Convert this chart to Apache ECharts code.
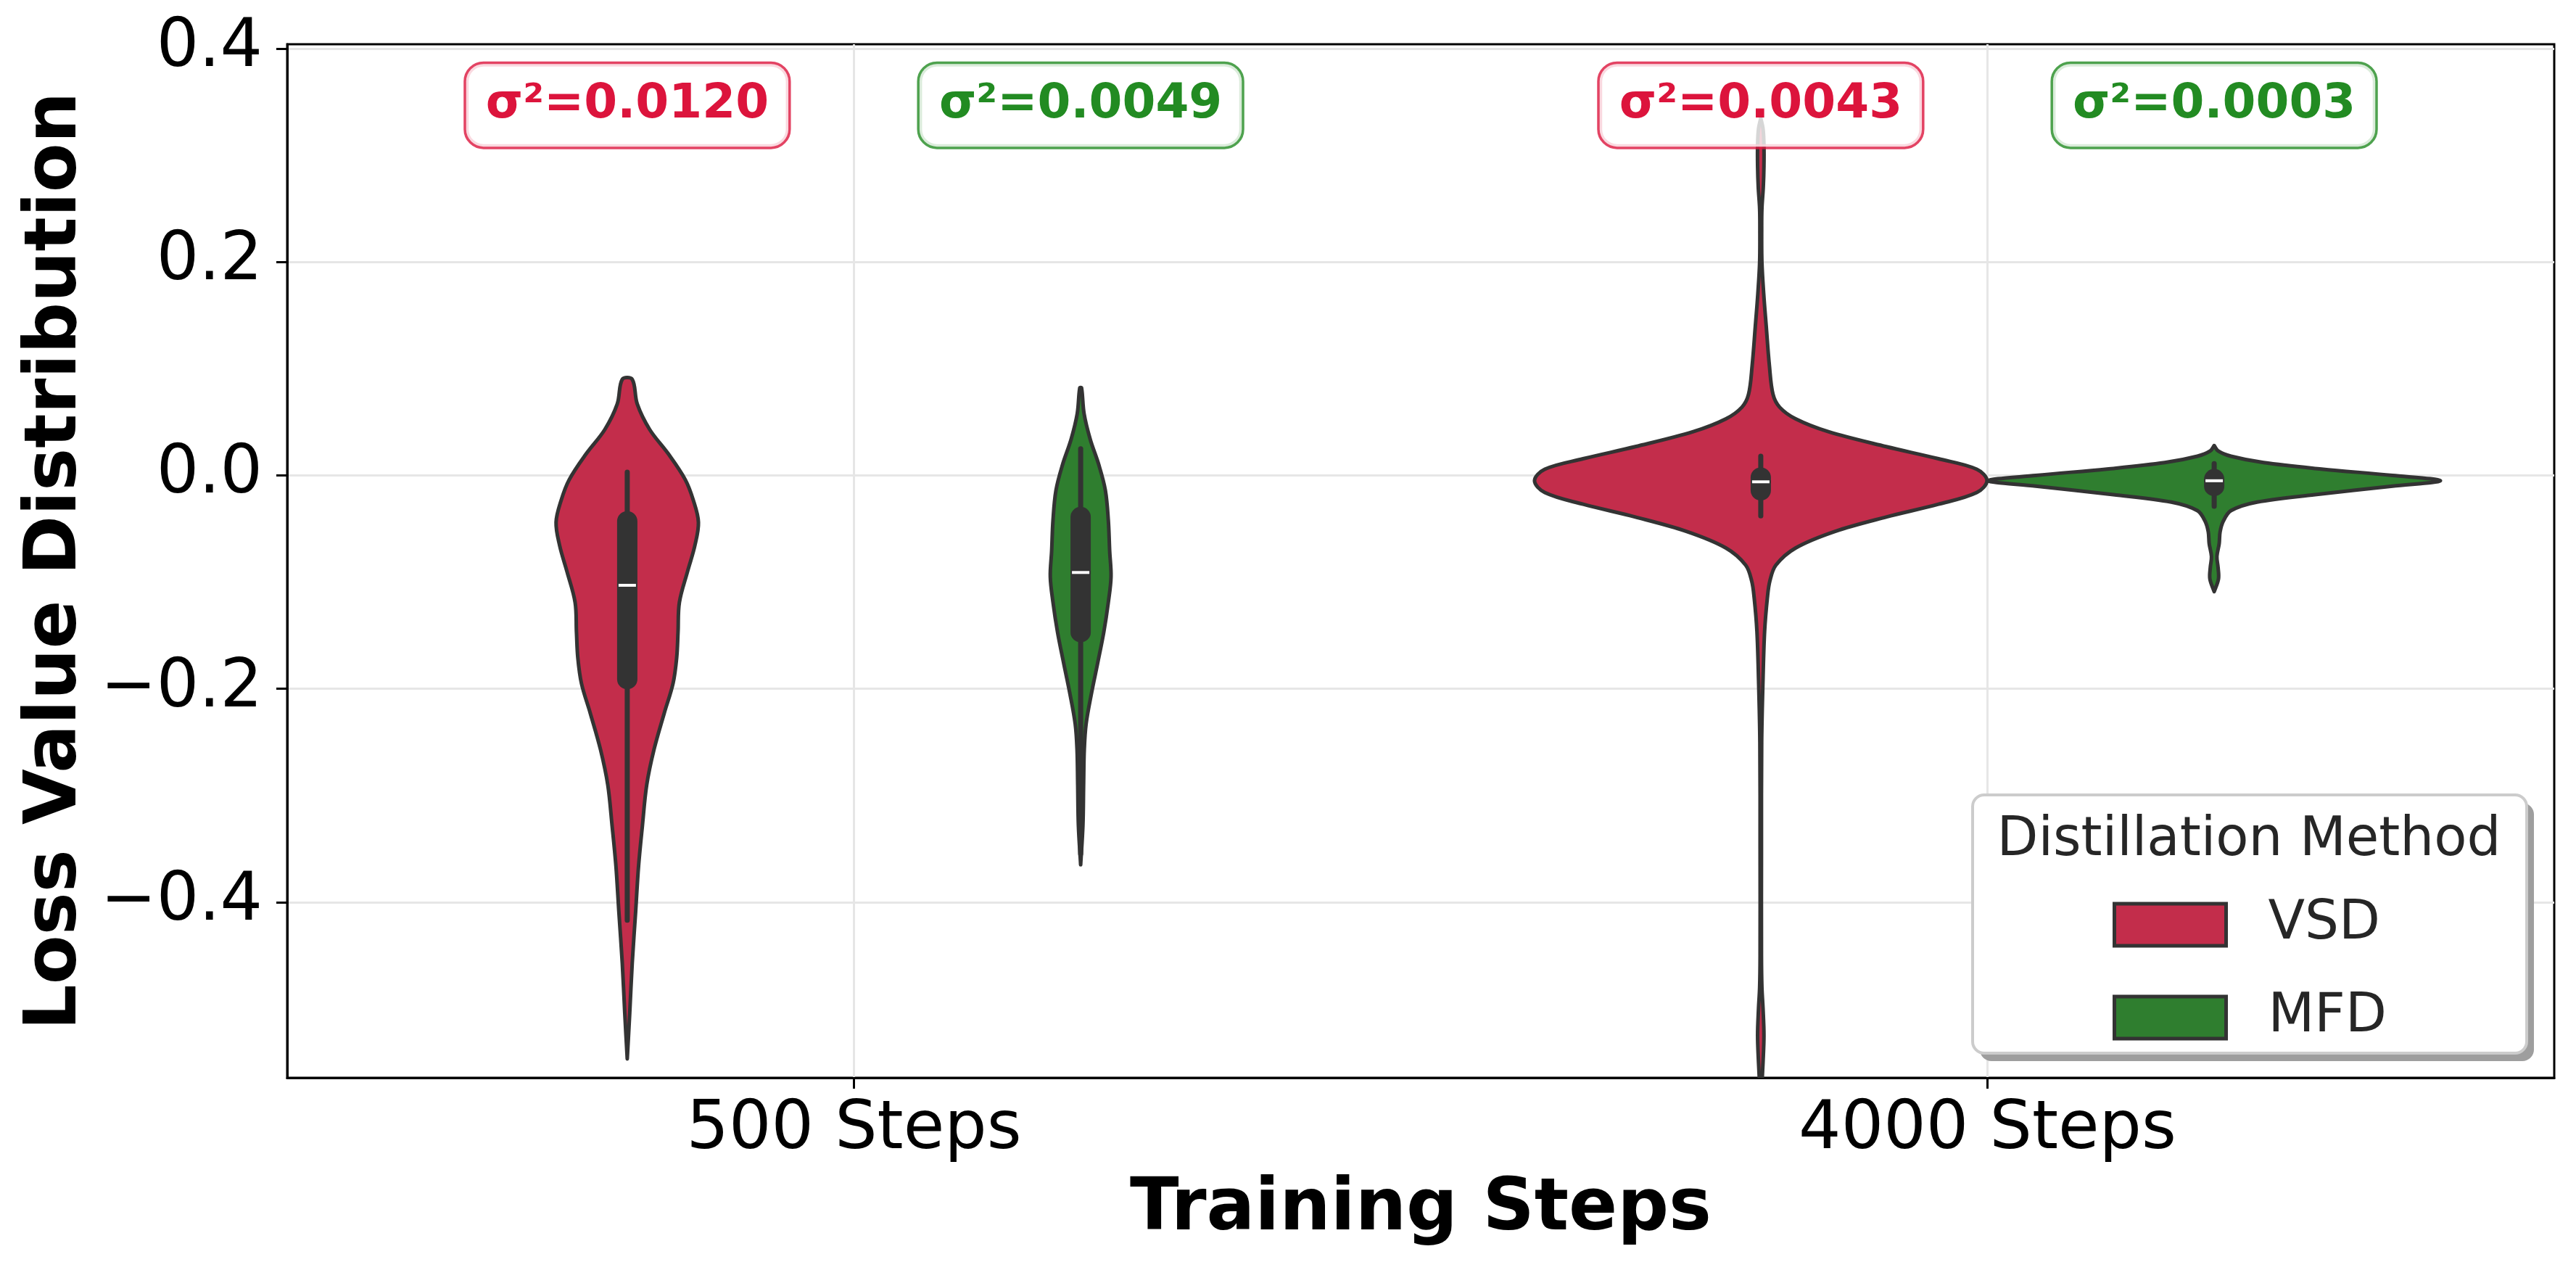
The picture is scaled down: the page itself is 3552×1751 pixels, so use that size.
<!DOCTYPE html>
<html><head><meta charset="utf-8">
<script src="https://cdn.jsdelivr.net/npm/echarts@6/dist/echarts.min.js"></script>
<style>html,body{margin:0;padding:0;background:#fff}#c{width:3552px;height:1751px}</style>
</head><body><div id="c"></div><script>
// ---------------- data ----------------
const categories = ['500 Steps', '4000 Steps'];
const methods = ['VSD', 'MFD'];
const yTicks = [-0.4, -0.2, 0, 0.2, 0.4];

// violin outlines: y value and relative half-width (1 = full dodge half-width)
const vsd500Y = [0.090, 0.067, 0.043, 0.020, -0.004, -0.023, -0.044, -0.066, -0.090, -0.119, -0.147, -0.171, -0.195, -0.223, -0.257, -0.290, -0.328, -0.366, -0.409, -0.457, -0.504, -0.547];
const vsd500W = [0.022, 0.044, 0.099, 0.182, 0.256, 0.291, 0.314, 0.298, 0.266, 0.230, 0.224, 0.218, 0.202, 0.163, 0.118, 0.086, 0.067, 0.050, 0.037, 0.022, 0.011, 0.0];

const mfd500Y = [0.082, 0.058, 0.034, 0.010, -0.014, -0.042, -0.071, -0.095, -0.119, -0.147, -0.176, -0.204, -0.233, -0.257, -0.290, -0.328, -0.365];
const mfd500W = [0.004, 0.015, 0.042, 0.080, 0.109, 0.122, 0.128, 0.134, 0.122, 0.102, 0.075, 0.048, 0.024, 0.016, 0.013, 0.010, 0.0];

const vsd4000Y = [0.335, 0.325, 0.310, 0.290, 0.270, 0.250, 0.230, 0.200, 0.170, 0.140, 0.103, 0.076, 0.064, 0.053, 0.041, 0.027, 0.0156, 0.0058, -0.005, -0.016, -0.027, -0.039, -0.0526, -0.068, -0.084, -0.099, -0.115, -0.146, -0.190, -0.250, -0.350, -0.450, -0.480, -0.500, -0.525, -0.550, -0.580, -0.600];
const vsd4000W = [0.0, 0.010, 0.014, 0.014, 0.011, 0.005, 0.004, 0.005, 0.013, 0.024, 0.038, 0.054, 0.083, 0.154, 0.298, 0.553, 0.784, 0.953, 0.998, 0.953, 0.784, 0.553, 0.326, 0.154, 0.067, 0.040, 0.029, 0.017, 0.010, 0.004, 0.003, 0.003, 0.005, 0.010, 0.014, 0.010, 0.003, 0.0];

const mfd4000Y = [0.028, 0.023, 0.018, 0.012, 0.006, 0.0, -0.005, -0.010, -0.018, -0.025, -0.033, -0.043, -0.053, -0.064, -0.076, -0.086, -0.097, -0.109];
const mfd4000W = [0.0, 0.017, 0.074, 0.218, 0.473, 0.787, 0.998, 0.787, 0.445, 0.189, 0.074, 0.040, 0.026, 0.022, 0.012, 0.017, 0.019, 0.0];

// box stats: [lower whisker, Q1, median, Q3, upper whisker]
const vsdBox = [[-0.417, -0.191, -0.103, -0.043, 0.003], [-0.038, -0.014, -0.006, -0.002, 0.018]];
const mfdBox = [[-0.355, -0.147, -0.091, -0.039, 0.025], [-0.029, -0.010, -0.005, -0.0035, 0.011]];

const vsdVariance = [0.0120, 0.0043];
const mfdVariance = [0.0049, 0.0003];

// ---------------- style / layout ----------------
const FILL = {VSD: '#C32D4B', MFD: '#2F7E2F'};
const TEXTC = {VSD: '#DC143C', MFD: '#228B22'};
const EDGE = {VSD: 'rgba(220,20,60,0.8)', MFD: 'rgba(34,139,34,0.8)'};
const DODGE = 0.2, HALF = 0.2;
const ANNOT_Y = 0.347;
const FONT = '"DejaVu Sans", sans-serif';

const profiles = {
  VSD: [{y: vsd500Y, w: vsd500W}, {y: vsd4000Y, w: vsd4000W}],
  MFD: [{y: mfd500Y, w: mfd500W}, {y: mfd4000Y, w: mfd4000W}]
};
const boxes = {VSD: vsdBox, MFD: mfdBox};
const variances = {VSD: vsdVariance, MFD: mfdVariance};

function violinRender(method, sign) {
  return function (params, api) {
    const i = params.dataIndex;
    const cat = api.value(0);
    const prof = profiles[method][i];
    const band = api.size([1, 0])[0];
    const cx = api.coord([cat, 0])[0] + sign * band * DODGE;
    const half = band * HALF;
    const yy = v => api.coord([cat, v])[1];
    const right = [], left = [];
    for (let k = 0; k < prof.y.length; k++) {
      const py = yy(prof.y[k]);
      right.push([cx + prof.w[k] * half, py]);
      left.push([cx - prof.w[k] * half, py]);
    }
    const pts = right.concat(left.reverse());
    const b = boxes[method][i];
    return {
      type: 'group',
      children: [
        {type: 'polygon', shape: {points: pts, smooth: 0.35},
          style: {fill: FILL[method], stroke: '#333333', lineWidth: 5, lineJoin: 'round'}},
        {type: 'line', shape: {x1: cx, y1: yy(b[4]), x2: cx, y2: yy(b[0])},
          style: {stroke: '#333333', lineWidth: 7, lineCap: 'round'}},
        {type: 'line', shape: {x1: cx, y1: yy(b[3]), x2: cx, y2: yy(b[1])},
          style: {stroke: '#333333', lineWidth: 28, lineCap: 'round'}},
        {type: 'line', shape: {x1: cx - 12, y1: yy(b[2]), x2: cx + 12, y2: yy(b[2])},
          style: {stroke: '#ffffff', lineWidth: 4}}
      ]
    };
  };
}

function annotRender(method, sign) {
  return function (params, api) {
    const i = params.dataIndex;
    const cat = api.value(0);
    const band = api.size([1, 0])[0];
    const p = api.coord([cat, ANNOT_Y]);
    return {
      type: 'text', x: p[0] + sign * band * DODGE, y: p[1], z2: 10,
      style: {
        text: 'σ²=' + variances[method][i].toFixed(4),
        fill: TEXTC[method], font: 'bold 66px ' + FONT,
        align: 'center', verticalAlign: 'middle',
        backgroundColor: 'rgba(255,255,255,0.8)', borderColor: EDGE[method],
        borderWidth: 3.5, borderRadius: 24, padding: [24, 27]
      }
    };
  };
}

const series = [];
methods.forEach((m, mi) => {
  const sign = mi === 0 ? -1 : 1;
  series.push({
    name: m, type: 'custom', clip: true, z: 2,
    itemStyle: {color: FILL[m]},
    data: categories.map((c, i) => [i, boxes[m][i][2]]),
    encode: {x: 0, y: 1},
    renderItem: violinRender(m, sign)
  });
});
methods.forEach((m, mi) => {
  const sign = mi === 0 ? -1 : 1;
  series.push({
    name: m + '_annot', type: 'custom', clip: false, z: 5,
    data: categories.map((c, i) => [i, variances[m][i]]),
    encode: {x: 0},
    renderItem: annotRender(m, sign)
  });
});

const axisBlack = {color: '#000', width: 3};
const option = {
  animation: false,
  backgroundColor: '#fff',
  grid: {left: 396, right: 30, top: 61, bottom: 265, show: true, borderColor: '#000', borderWidth: 3, backgroundColor: 'transparent'},
  xAxis: {
    type: 'category', data: categories, boundaryGap: true,
    axisLine: {show: true, onZero: false, lineStyle: axisBlack},
    axisTick: {show: true, alignWithLabel: true, length: 15, lineStyle: axisBlack},
    axisLabel: {fontSize: 92, color: '#000', fontFamily: FONT, margin: 27},
    splitLine: {show: true, alignWithLabel: true, lineStyle: {color: '#e6e6e6', width: 3}},
    name: 'Training Steps', nameLocation: 'middle', nameGap: 134,
    nameTextStyle: {fontSize: 99, fontWeight: 'bold', color: '#000', fontFamily: FONT}
  },
  yAxis: {
    type: 'value', min: -0.5647, max: 0.4042,
    axisLine: {show: true, onZero: false, lineStyle: axisBlack},
    axisTick: {show: true, length: 15, lineStyle: axisBlack, customValues: yTicks},
    axisLabel: {fontSize: 92, color: '#000', fontFamily: FONT, margin: 34, customValues: yTicks,
      formatter: v => (v < 0 ? '\u2212' : '') + Math.abs(v).toFixed(1)},
    splitLine: {show: true, lineStyle: {color: '#e6e6e6', width: 3}},
    name: 'Loss Value Distribution', nameLocation: 'middle', nameRotate: 90, nameGap: 267,
    nameTextStyle: {fontSize: 99, fontWeight: 'bold', color: '#000', fontFamily: FONT}
  },
  legend: {
    data: methods.map(m => ({name: m, icon: 'rect', itemStyle: {color: FILL[m], borderColor: '#333333', borderWidth: 5}})),
    orient: 'vertical', left: 2913, top: 1238, itemWidth: 154, itemHeight: 58, itemGap: 54,
    padding: 0, selectedMode: false, z: 60,
    textStyle: {fontSize: 74, color: '#262626', fontFamily: FONT, padding: [0, 0, 0, 53]}
  },
  graphic: [
    {type: 'rect', z: 50, shape: {x: 2730, y: 1107, width: 764, height: 356, r: 16}, style: {fill: '#9e9e9e'}},
    {type: 'rect', z: 51, shape: {x: 2720, y: 1096, width: 764, height: 356, r: 16}, style: {fill: '#ffffff', stroke: '#cccccc', lineWidth: 4}},
    {type: 'text', z: 52, x: 3101, y: 1160, style: {text: 'Distillation Method', font: '74px ' + FONT, fill: '#262626', align: 'center', verticalAlign: 'middle'}}
  ],
  series: series
};
const chart = echarts.init(document.getElementById('c'), null, {renderer: 'canvas'});
chart.setOption(option);
</script></body></html>
